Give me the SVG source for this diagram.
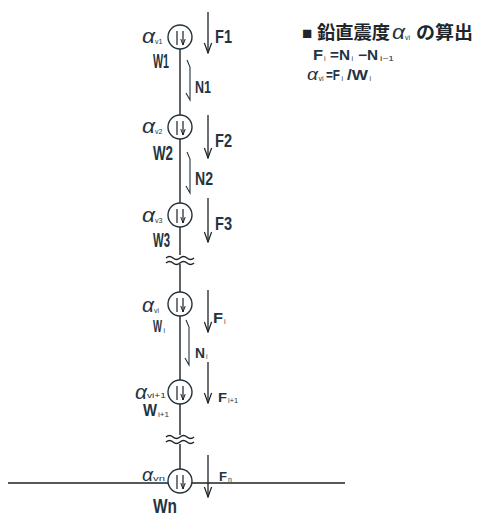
<svg xmlns="http://www.w3.org/2000/svg" width="492" height="522" viewBox="0 0 492 522">
<style>
.t{font-family:"Liberation Sans",Arial,sans-serif;font-weight:bold;fill:#24343e}
.a{font-family:"Liberation Sans",Arial,sans-serif;font-style:italic;fill:#24343e}
.s{font-family:"Liberation Sans",Arial,sans-serif;font-size:7px;fill:#24343e}
.j{font-family:"Liberation Sans","Noto Sans CJK JP",sans-serif;font-weight:bold;fill:#1e262c}
.ln{stroke:#1c2226;stroke-width:1.4;fill:none}
.f{stroke:#1c2226;stroke-width:1.3;fill:none;marker-end:url(#ah)}
.c{stroke:#22323c;stroke-width:1.4;fill:#fff}
.d{stroke:#1c2226;stroke-width:1.2;fill:none;marker-end:url(#sh)}
.h{stroke:#22323c;stroke-width:1.1;fill:none}
</style>
<defs>
<marker id="ah" viewBox="-1 -5 12 10" refX="10" refY="0" markerWidth="12" markerHeight="10" markerUnits="userSpaceOnUse" orient="auto">
<path d="M0,-3.6 L10,0 L0,3.6" fill="none" stroke="#1c2226" stroke-width="1.2"/>
</marker>
<marker id="sh" viewBox="-1 -4 8 8" refX="6" refY="0" markerWidth="8" markerHeight="8" markerUnits="userSpaceOnUse" orient="auto">
<path d="M0,-2.2 L6,0 L0,2.2" fill="none" stroke="#1c2226" stroke-width="1"/>
</marker>
</defs>
<rect width="492" height="522" fill="#fff"/>

<g id="connectors">
<path class="ln" d="M180,37 V255 M180,264 V435 M180,444 V481"/>
<path class="ln" d="M166,258 q3.5,-3 7,0 t7,0 t7,0 t7,0 M166,263 q3.5,-3 7,0 t7,0 t7,0 t7,0"/>
<path class="ln" d="M166,437 q3.5,-3 7,0 t7,0 t7,0 t7,0 M166,442 q3.5,-3 7,0 t7,0 t7,0 t7,0"/>
<path class="ln" d="M8,483 H345"/>
<g id="N1"><path class="h" d="M187,60 L190,67 V100 L186,93"/><text class="t" x="195" y="93" font-size="17" textLength="16" lengthAdjust="spacingAndGlyphs">N1</text></g>
<g id="N2"><path class="h" d="M187,152 L190,159 V193 L186,186"/><text class="t" x="195" y="185" font-size="18" textLength="18" lengthAdjust="spacingAndGlyphs">N2</text></g>
<g id="Ni"><path class="h" d="M186,320 L189,327 V365 L185,358"/><text class="t" x="195" y="358" font-size="15" textLength="10" lengthAdjust="spacingAndGlyphs">N</text><text class="s" x="206" y="359" font-size="6">i</text></g>
</g>

<g id="node1">
<circle class="c" cx="180" cy="37" r="12"/>
<path class="d" d="M177,31 V45 M183,31 V45"/>
<text class="a" x="142" y="43" font-size="21" textLength="13" lengthAdjust="spacingAndGlyphs">α</text><text class="s" x="155" y="44">v1</text>
<text class="t" x="153" y="68" font-size="20" textLength="16" lengthAdjust="spacingAndGlyphs">W1</text>
<path class="f" d="M208,12 V53"/>
<text class="t" x="215" y="43" font-size="18" textLength="17" lengthAdjust="spacingAndGlyphs">F1</text>
</g>

<g id="node2">
<circle class="c" cx="180" cy="127" r="12"/>
<path class="d" d="M177,121 V135 M183,121 V135"/>
<text class="a" x="142" y="133" font-size="21" textLength="13" lengthAdjust="spacingAndGlyphs">α</text><text class="s" x="155" y="134">v2</text>
<text class="t" x="153" y="160" font-size="21" textLength="20" lengthAdjust="spacingAndGlyphs">W2</text>
<path class="f" d="M208,115 V158"/>
<text class="t" x="215" y="147" font-size="18" textLength="17" lengthAdjust="spacingAndGlyphs">F2</text>
</g>

<g id="node3">
<circle class="c" cx="180" cy="215" r="12"/>
<path class="d" d="M177,209 V223 M183,209 V223"/>
<text class="a" x="142" y="222" font-size="21" textLength="13" lengthAdjust="spacingAndGlyphs">α</text><text class="s" x="155" y="223">v3</text>
<text class="t" x="153" y="247" font-size="20" textLength="17" lengthAdjust="spacingAndGlyphs">W3</text>
<path class="f" d="M208,198 V242"/>
<text class="t" x="215" y="230" font-size="18" textLength="17" lengthAdjust="spacingAndGlyphs">F3</text>
</g>

<g id="nodei">
<circle class="c" cx="180" cy="304" r="12"/>
<path class="d" d="M177,298 V312 M183,298 V312"/>
<text class="a" x="142" y="312" font-size="20" textLength="12" lengthAdjust="spacingAndGlyphs">α</text><text class="s" x="154" y="313">vi</text>
<text class="t" x="153" y="332" font-size="17" textLength="9" lengthAdjust="spacingAndGlyphs">W</text><text class="s" x="163.5" y="333" font-size="6">i</text>
<path class="f" d="M208,290 V332"/>
<text class="t" x="213" y="323" font-size="14" textLength="10" lengthAdjust="spacingAndGlyphs">F</text><text class="s" x="224" y="324" font-size="6">i</text>
</g>

<g id="nodei1">
<circle class="c" cx="180" cy="392" r="12"/>
<path class="d" d="M177,386 V400 M183,386 V400"/>
<text class="a" x="135" y="399" font-size="20" textLength="12" lengthAdjust="spacingAndGlyphs">α</text><text class="s" x="147" y="398" textLength="19" lengthAdjust="spacingAndGlyphs">vi+1</text>
<text class="t" x="143" y="416" font-size="17" textLength="14" lengthAdjust="spacingAndGlyphs">W</text><text class="s" x="158" y="417" font-size="6" textLength="11" lengthAdjust="spacingAndGlyphs">i+1</text>
<path class="f" d="M208,362 V403"/>
<text class="t" x="218" y="402" font-size="13" textLength="9" lengthAdjust="spacingAndGlyphs">F</text><text class="s" x="228" y="403" font-size="6" textLength="10" lengthAdjust="spacingAndGlyphs">i+1</text>
</g>

<g id="noden">
<circle class="c" cx="180" cy="481" r="12"/>
<path class="d" d="M177,475 V489 M183,475 V489"/>
<text class="a" x="142" y="481" font-size="19" textLength="11" lengthAdjust="spacingAndGlyphs">α</text><text class="s" x="153" y="481" textLength="12" lengthAdjust="spacingAndGlyphs">vn</text>
<text class="t" x="153" y="513" font-size="20" textLength="24" lengthAdjust="spacingAndGlyphs">Wn</text>
<path class="f" d="M208,455 V497"/>
<text class="t" x="219" y="481" font-size="12" textLength="8" lengthAdjust="spacingAndGlyphs">F</text><text class="s" x="228" y="482" font-size="7">n</text>
</g>

<g id="legend">
<text class="j" x="302" y="39" font-size="17">■</text>
<text class="j" x="317" y="39" font-size="18" textLength="73" lengthAdjust="spacingAndGlyphs">鉛直震度</text>
<text class="a" x="392" y="39" font-size="20" textLength="13" lengthAdjust="spacingAndGlyphs">α</text><text class="s" x="405" y="40">vi</text>
<text class="j" x="416" y="39" font-size="18" textLength="57" lengthAdjust="spacingAndGlyphs">の算出</text>
<text class="t" x="313" y="60" font-size="14" textLength="10" lengthAdjust="spacingAndGlyphs">F</text><text class="s" x="324" y="61" font-size="6">i</text>
<text class="t" x="330" y="60" font-size="14" textLength="20" lengthAdjust="spacingAndGlyphs">=N</text><text class="s" x="351.5" y="61" font-size="6">i</text>
<text class="t" x="358" y="60" font-size="14" textLength="20" lengthAdjust="spacingAndGlyphs">−N</text><text class="s" x="380" y="61" font-size="6" textLength="14" lengthAdjust="spacingAndGlyphs">i−1</text>
<text class="a" x="307" y="80" font-size="17" textLength="11" lengthAdjust="spacingAndGlyphs">α</text><text class="s" x="318.5" y="81" font-size="6">vi</text>
<text class="t" x="326" y="80" font-size="14" textLength="14" lengthAdjust="spacingAndGlyphs">=F</text><text class="s" x="341.5" y="81" font-size="6">i</text>
<text class="t" x="347" y="80" font-size="14" textLength="21" lengthAdjust="spacingAndGlyphs">/W</text><text class="s" x="369.5" y="81" font-size="6">i</text>
</g>
</svg>
